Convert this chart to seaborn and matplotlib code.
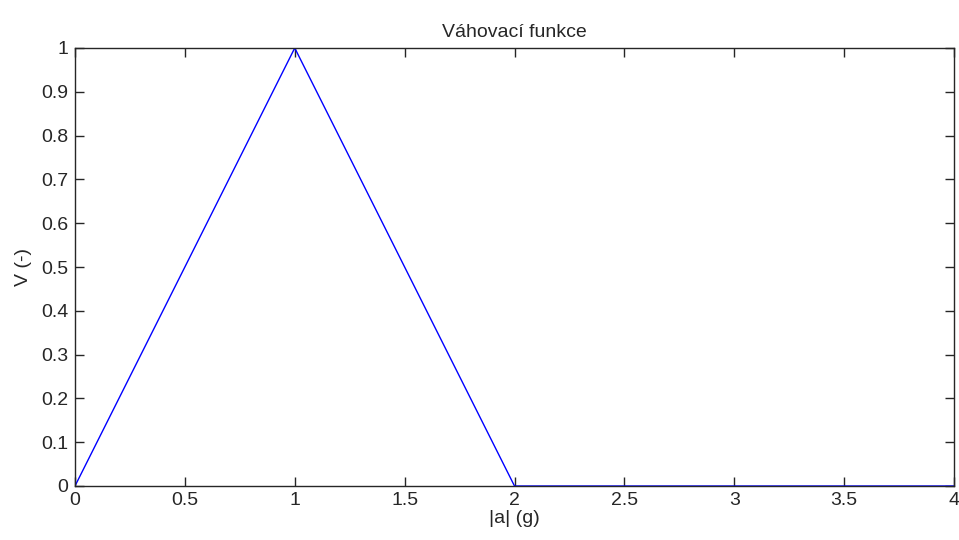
import matplotlib
matplotlib.use("Agg")
import matplotlib.pyplot as plt
import seaborn as sns
import pandas as pd

x_vals = [0, 1, 2, 4]
y_vals = [0, 1, 0, 0]
x_ticks = [0, 0.5, 1, 1.5, 2, 2.5, 3, 3.5, 4]
y_ticks = [0, 0.1, 0.2, 0.3, 0.4, 0.5, 0.6, 0.7, 0.8, 0.9, 1]
title = "Váhovací funkce"
xlabel = "|a| (g)"
ylabel = "V (-)"

sns.set_style("white")
plt.rcParams['font.family'] = ['Liberation Sans', 'DejaVu Sans']

df = pd.DataFrame({"x": x_vals, "y": y_vals})
fig = plt.figure(figsize=(9.59, 5.40), dpi=100)
ax = fig.add_axes([75/959, 1-486/540, (954-75)/959, (486-48)/540])
sns.lineplot(data=df, x="x", y="y", ax=ax, color="#0000ff", linewidth=1.0, sort=False)
ax.set_xlim(0, 4)
ax.set_ylim(0, 1)
ax.set_xticks(x_ticks)
ax.set_xticklabels([f"{v:g}" for v in x_ticks])
ax.set_yticks(y_ticks)
ax.set_yticklabels([f"{v:g}" for v in y_ticks])
ax.tick_params(direction="in", length=6.5, width=1, color="#262626", labelsize=14,
               top=True, right=True, left=True, bottom=True, labelcolor="#262626")
ax.tick_params(axis="x", pad=4)
ax.tick_params(axis="y", pad=5)
for s in ax.spines.values():
    s.set_color("#262626")
    s.set_linewidth(1)
ax.set_title(title, fontsize=14, color="#262626", pad=8)
ax.set_xlabel(xlabel, fontsize=14, color="#262626", labelpad=1)
ax.set_ylabel(ylabel, fontsize=14, color="#262626", labelpad=6)
fig.savefig("out.png", dpi=100)
